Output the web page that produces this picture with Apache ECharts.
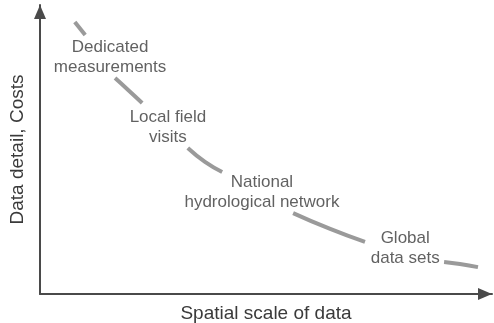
<!DOCTYPE html>
<html>
<head>
<meta charset="utf-8">
<script src="https://cdn.jsdelivr.net/npm/echarts@6/dist/echarts.min.js"></script>
<style>
  html, body { margin: 0; padding: 0; background: #fff; }
  #chart { width: 494px; height: 323px; }
</style>
</head>
<body>
<div id="chart"></div>
<script>
// curve pieces (x = spatial scale, y = detail/cost), broken where labels sit
const curveSegments = [
  [[7.7, 94.1], [10.0, 89.6]],
  [[16.6, 74.7], [19.5, 70.6], [22.6, 66.1]],
  [[32.7, 50.5], [36.5, 45.7], [40.3, 42.2]],
  [[56.0, 28.0], [64.2, 22.5], [71.9, 18.0]],
  [[89.4, 11.1], [92.9, 10.4], [96.9, 9.3]]
]

const labelNames = [
  'Dedicated\nmeasurements',
  'Local field\nvisits',
  'National\nhydrological network',
  'Global\ndata sets'
]
const labelX = [15.5, 28.3, 49.1, 80.8]
const labelY = [82.0, 57.8, 35.3, 15.9]

const xTitle = 'Spatial scale of data'
const yTitle = 'Data detail, Costs'

const font = 'Liberation Sans, Arial, sans-serif'

const chart = echarts.init(document.getElementById('chart'))

const axisBase = {
  type: 'value'
  , min: 0
  , max: 100
  , axisTick: { show: false }
  , axisLabel: { show: false }
  , splitLine: { show: false }
  , nameLocation: 'middle'
  , nameTextStyle: { fontFamily: font, fontSize: 19, color: '#3a3a3a' }
  , axisLine: {
    show: true
    , symbol: ['none', 'triangle']
    , symbolSize: [12, 14]
    , symbolOffset: [0, -7]
    , lineStyle: { color: '#4a4a4a', width: 2 }
  }
}

const option = {
  animation: false
  , backgroundColor: '#fff'
  , grid: { left: 40, right: 2, top: 5, bottom: 29, outerBoundsMode: 'none', containLabel: false }
  , xAxis: Object.assign({}, axisBase, { name: xTitle, nameGap: 10 })
  , yAxis: Object.assign({}, axisBase, { name: yTitle, nameGap: 13 })
  , series: curveSegments.map(seg => ({
      type: 'line'
      , data: seg
      , smooth: true
      , symbol: 'none'
      , lineStyle: { color: '#9a9a9a', width: 4 }
    })).concat([{
      type: 'scatter'
      , symbolSize: 0
      , data: labelNames.map((n, i) => ({ name: n, value: [labelX[i], labelY[i]] }))
      , label: {
        show: true
        , position: 'inside'
        , formatter: '{b}'
        , fontFamily: font
        , fontSize: 17
        , lineHeight: 20
        , align: 'center'
        , color: '#3a3a3a'
      }
    }])
}

chart.setOption(option)
</script>
</body>
</html>
